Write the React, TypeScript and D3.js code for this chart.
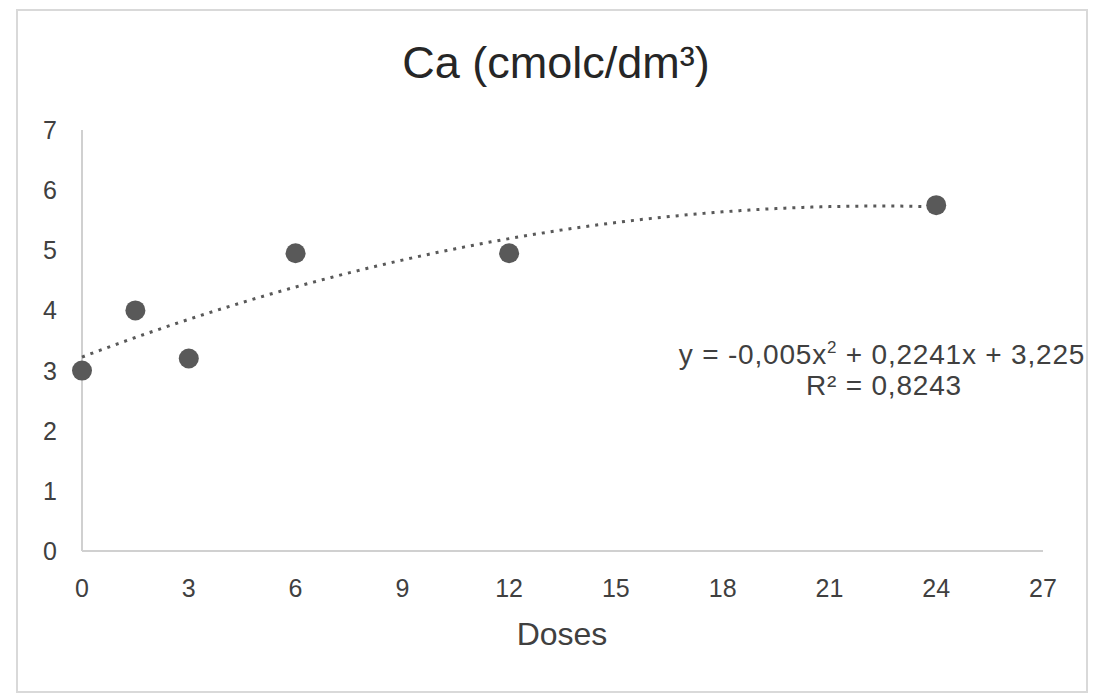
import React from "react";
import * as d3 from "d3";

const doses = [0, 1.5, 3, 6, 12, 24];
const caValues = [3.0, 4.0, 3.2, 4.95, 4.95, 5.75];
const xTicks = [0, 3, 6, 9, 12, 15, 18, 21, 24, 27];
const yTicks = [0, 1, 2, 3, 4, 5, 6, 7];
const trendCoef = [-0.005, 0.2241, 3.225];
const title = "Ca (cmolc/dm³)";
const xLabel = "Doses";
const eqLine1 = "y = -0,005x";
const eqLine1b = " + 0,2241x + 3,225";
const eqLine2 = "R² = 0,8243";

export default function App() {
  React.useEffect(() => {
    document.body.style.margin = "0";
  }, []);
  const W = 1095;
  const H = 697;
  const x = d3.scaleLinear().domain([0, 27]).range([82, 1043]);
  const y = d3.scaleLinear().domain([0, 7]).range([551, 130]);
  const font = "'Liberation Sans', Arial, sans-serif";
  const trendX = d3.range(0, 24.001, 0.25);
  const line = d3
    .line<number>()
    .x((d) => x(d))
    .y((d) => y(trendCoef[0] * d * d + trendCoef[1] * d + trendCoef[2]))
    .curve(d3.curveMonotoneX);
  const textColor = "#404040";
  return (
    <svg width={W} height={H} style={{ display: "block", background: "#fff" }} fontFamily={font}>
      <rect x={17} y={10} width={1070} height={682} fill="#fff" stroke="#d9d9d9" strokeWidth={2} />
      <text x={556} y={78} textAnchor="middle" fontSize={45} fill="#262626">
        {title}
      </text>
      {/* axes */}
      <line x1={x(0)} x2={x(0)} y1={y(7)} y2={y(0)} stroke="#d0d0d0" strokeWidth={2} />
      <line x1={x(0)} x2={x(27)} y1={y(0)} y2={y(0)} stroke="#d0d0d0" strokeWidth={2} />
      {yTicks.map((t) => (
        <text key={"y" + t} x={57} y={y(t) + 9} textAnchor="end" fontSize={25} fill={textColor}>
          {t}
        </text>
      ))}
      {xTicks.map((t) => (
        <text key={"x" + t} x={x(t)} y={597} textAnchor="middle" fontSize={25} fill={textColor}>
          {t}
        </text>
      ))}
      <text x={562} y={645} textAnchor="middle" fontSize={32} fill={textColor}>
        {xLabel}
      </text>
      {/* trendline */}
      <path
        d={line(trendX) || ""}
        fill="none"
        stroke="#595959"
        strokeWidth={3}
        strokeDasharray="3 6"
      />
      {doses.map((d, i) => (
        <circle key={i} cx={x(d)} cy={y(caValues[i])} r={10} fill="#595959" />
      ))}
      <text x={882} y={364} textAnchor="middle" fontSize={28} letterSpacing={0.8} fill={textColor}>
        {eqLine1}
        <tspan fontSize={17} dy={-11}>2</tspan>
        <tspan dy={11}>{eqLine1b}</tspan>
      </text>
      <text x={884} y={395} textAnchor="middle" fontSize={28} letterSpacing={0.8} fill={textColor}>
        {eqLine2}
      </text>
    </svg>
  );
}
